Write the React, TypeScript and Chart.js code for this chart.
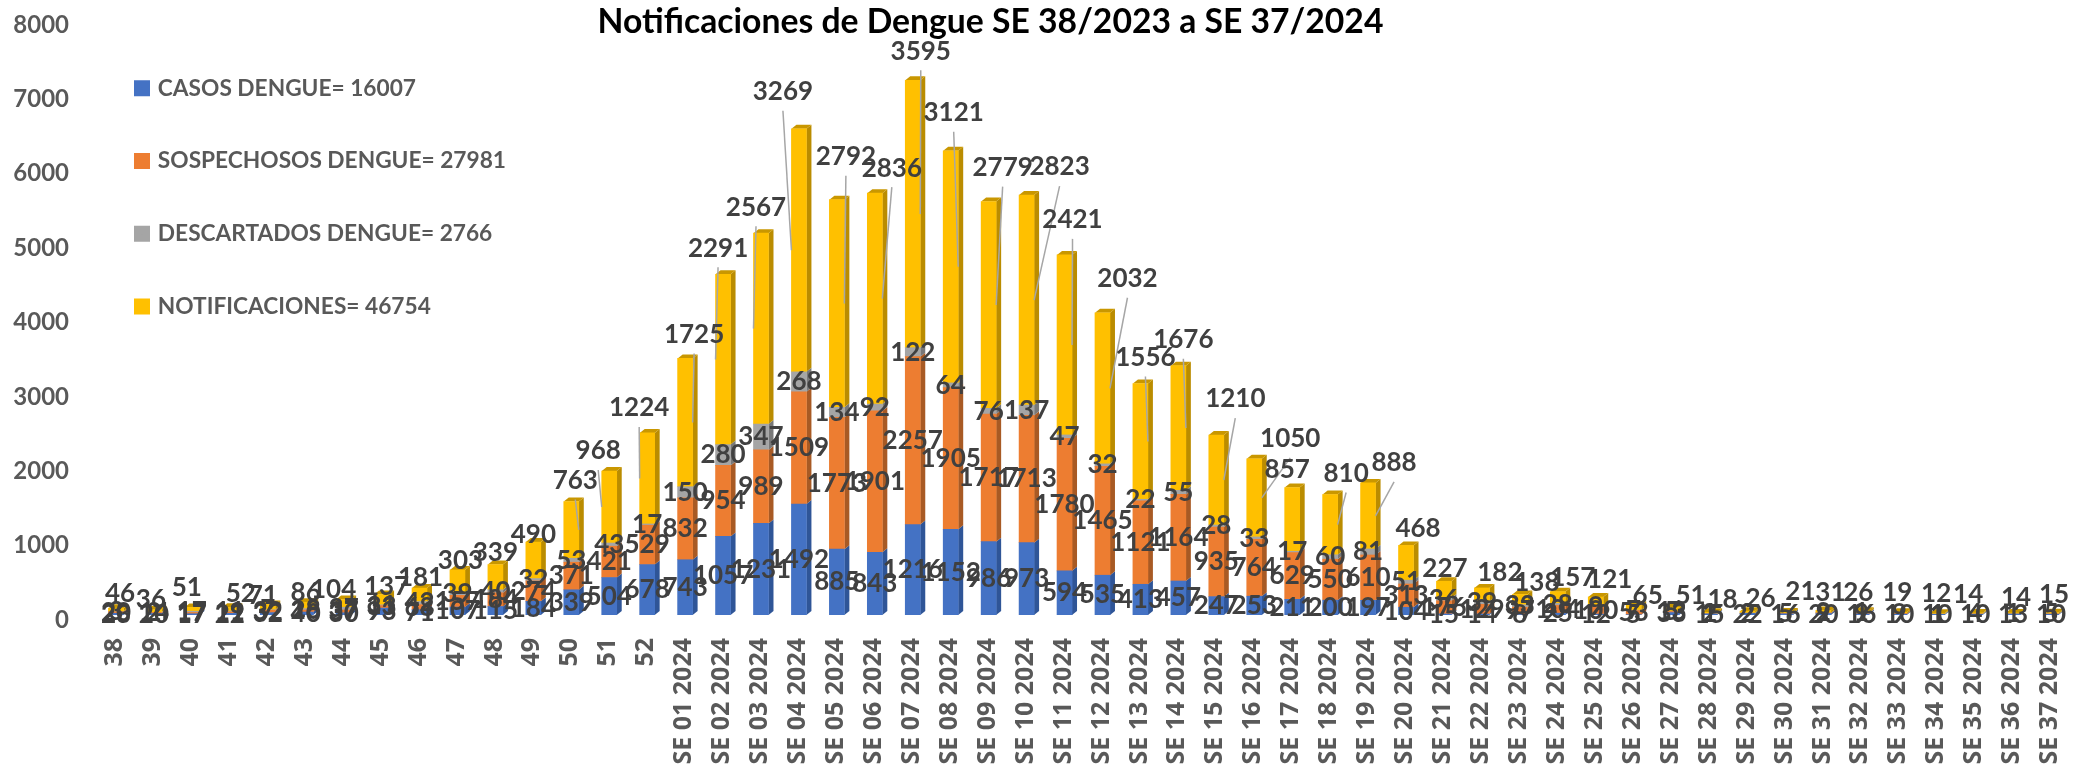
import React, { useEffect, useRef } from "react";
import { Chart, registerables } from "chart.js";

Chart.register(...registerables);

const weeks2023 = ["38","39","40","41","42","43","44","45","46","47","48","49","50","51","52"];
const weeks2024 = ["01","02","03","04","05","06","07","08","09","10","11","12","13","14","15","16","17","18","19","20","21","22","23","24","25","26","27","28","29","30","31","32","33","34","35","36","37"];
const categories = [...weeks2023, ...weeks2024.map((w) => `SE ${w} 2024`)];

const casos = [23,20,17,22,32,40,30,93,71,107,115,184,339,504,678,743,1057,1231,1492,885,843,1216,1152,986,973,594,535,413,457,247,253,211,200,197,104,15,14,8,25,12,5,33,15,22,16,20,16,10,10,10,13,10];
const sospechosos = [20,14,17,19,32,28,37,33,68,157,184,274,371,421,529,832,954,989,1509,1773,1901,2257,1905,1717,1713,1780,1465,1121,1164,935,764,629,550,610,313,176,129,97,104,100,53,13,1,2,5,9,9,9,1,4,1,5];
const descartados = [3,2,17,11,7,18,37,11,42,39,40,32,53,43,17,150,280,347,268,134,92,122,64,76,137,47,32,22,55,28,33,17,60,81,51,36,39,33,28,9,7,5,2,2,0,2,1,0,1,0,0,0];
const notificaciones = [46,36,51,52,71,86,104,137,181,303,339,490,763,968,1224,1725,2291,2567,3269,2792,2836,3595,3121,2779,2823,2421,2032,1556,1676,1210,1050,857,810,888,468,227,182,138,157,121,65,51,18,26,21,31,26,19,12,14,14,15];

const seriesLabels = ["CASOS DENGUE= 16007","SOSPECHOSOS DENGUE= 27981","DESCARTADOS DENGUE= 2766","NOTIFICACIONES= 46754"];
const yTicks = [0,1000,2000,3000,4000,5000,6000,7000,8000];

// Layout table: where each NOTIFICACIONES label sits relative to the top of its bar.
const notifLabelShift: [number, number][] = [
  [4,-15],[-3,-10],[-5,-20],[11,-14],[-5,-9],[0,-10],[-10,-10],[5,-8],[1,-10],[3,-9],[0,-12],[0,-8],[4,-21],[-11,-20],[-8,-25],
  [9,-24],[-5,-26],[-5,-26],[-16,-37],[9,-43],[17,-25],[8,-29],[3,-38],[14,-34],[33,-28],[8,-35],[25,-34],[5,-26],[5,-26],[19,-36],[36,-20],[-5,-18],[16,-21],[26,-20],[12,-17],[1,-13],[18,-15],[17,-12],[15,-14],[14,-17],[14,-10],[19,-12],[13,-13],[13,-13],[15,-20],[7,-18],[-3,-19],[-2,-20],[-1,-20],[-7,-18],[3,-15],[3,-18],
];
const firstLeader = 12;
const lastLeader = 33;
const noLeader = [31];

const fronts = ["#4472C4", "#ED7D31", "#A5A5A5", "#FFC000"];
const sides = ["#2F5597", "#A85A24", "#787878", "#BA8C00"];
const caps = ["#3A62AB", "#C96A28", "#8C8C8C", "#C99700"];

const DEPTH_X = 5;
const DEPTH_Y = 4;

const faces3d = {
  id: "faces3d",
  beforeDatasetsDraw(chart: any) {
    const ctx = chart.ctx;
    ctx.save();
    chart.data.datasets.forEach((_: any, d: number) => {
      chart.getDatasetMeta(d).data.forEach((el: any) => {
        const { x, y, base, width } = el.getProps(["x", "y", "base", "width"], true);
        const r = x + width / 2;
        const l = x - width / 2;
        ctx.fillStyle = sides[d];
        ctx.beginPath();
        ctx.moveTo(r, y);
        ctx.lineTo(r + DEPTH_X, y - DEPTH_Y);
        ctx.lineTo(r + DEPTH_X, base - DEPTH_Y);
        ctx.lineTo(r, base);
        ctx.closePath();
        ctx.fill();
        if (d === chart.data.datasets.length - 1) {
          ctx.fillStyle = caps[d];
          ctx.beginPath();
          ctx.moveTo(l, y);
          ctx.lineTo(l + DEPTH_X, y - DEPTH_Y);
          ctx.lineTo(r + DEPTH_X, y - DEPTH_Y);
          ctx.lineTo(r, y);
          ctx.closePath();
          ctx.fill();
        }
      });
    });
    ctx.restore();
  },
};

const barLabels = {
  id: "barLabels",
  afterDatasetsDraw(chart: any) {
    const ctx = chart.ctx;
    ctx.save();
    const last = chart.data.datasets.length - 1;
    // leader lines first
    ctx.strokeStyle = "#A6A6A6";
    ctx.lineWidth = 1.5;
    chart.getDatasetMeta(last).data.forEach((el: any, i: number) => {
      if (i < firstLeader || i > lastLeader || noLeader.includes(i)) return;
      const { x, y, base, width } = el.getProps(["x", "y", "base", "width"], true);
      const [dx, dy] = notifLabelShift[i];
      ctx.beginPath();
      ctx.moveTo(x + dx, y + dy + 19);
      ctx.lineTo(x + Math.sign(dx) * width / 2, (y + base) / 2);
      ctx.stroke();
    });
    ctx.font = "bold 26px Lato";
    ctx.fillStyle = "#404040";
    ctx.textAlign = "center";
    ctx.textBaseline = "middle";
    chart.data.datasets.forEach((ds: any, d: number) => {
      chart.getDatasetMeta(d).data.forEach((el: any, i: number) => {
        const { x, y, base } = el.getProps(["x", "y", "base"], true);
        const value = ds.data[i];
        if (d === last) {
          const [dx, dy] = notifLabelShift[i];
          ctx.fillText(String(value), x + dx, y + dy);
        } else if (value > 0) {
          ctx.fillText(String(value), x, (y + base) / 2);
        }
      });
    });
    ctx.restore();
  },
};

const placeBlocks = {
  id: "placeBlocks",
  afterLayout(chart: any) {
    const t = chart.titleBlock;
    const h = t.bottom - t.top;
    t.top = 22 - h / 2;
    t.bottom = t.top + h;
    t.left = 0;
    t.right = 1981;
    const lg = chart.legend;
    lg.left -= 9.5;
    lg.right -= 9.5;
    lg.top += 27;
    lg.bottom += 27;
  },
};

export default function App() {
  const ref = useRef<HTMLCanvasElement>(null);
  useEffect(() => {
    document.body.style.margin = "0";
    const values = [casos, sospechosos, descartados, notificaciones];
    const chart = new Chart(ref.current!, {
      type: "bar",
      data: {
        labels: categories,
        datasets: values.map((data, d) => ({
          label: seriesLabels[d],
          data,
          backgroundColor: fronts[d],
          borderWidth: 0,
          barThickness: 15,
        })),
      },
      plugins: [faces3d, barLabels, placeBlocks],
      options: {
        responsive: false,
        animation: false,
        layout: { padding: { top: 0, right: 23, left: 0, bottom: 0 } },
        scales: {
          x: {
            stacked: true,
            grid: { display: false, drawTicks: false },
            border: { display: false },
            afterFit(s: any) {
              s.height = 149;
              s.paddingLeft = 0;
              s.paddingRight = 0;
            },
            ticks: {
              autoSkip: false,
              minRotation: 90,
              maxRotation: 90,
              padding: 23,
              labelOffset: -1,
              color: "#595959",
              font: { family: "'Open Sans'", size: 25, weight: "bold" },
            },
          },
          y: {
            stacked: true,
            min: 0,
            max: 8000,
            grid: { display: false, drawTicks: false },
            border: { display: false },
            afterFit(s: any) {
              s.width = 97;
              s.paddingTop = 0;
              s.paddingBottom = 0;
            },
            afterBuildTicks(s: any) { s.ticks = yTicks.map((value) => ({ value })); },
            ticks: {
              padding: 28,
              labelOffset: 5,
              color: "#595959",
              callback: (v: any) => String(v),
              font: { family: "Lato", size: 24, weight: "bold" },
            },
          },
        },
        plugins: {
          tooltip: { enabled: false },
          title: {
            display: true,
            text: "Notificaciones de Dengue SE 38/2023 a SE 37/2024",
            color: "#000000",
            padding: 0,
            font: { family: "Lato", size: 33.7, weight: "bold", lineHeight: 0.5935 },
          },
          legend: {
            position: "chartArea",
            align: "start",
            labels: {
              boxWidth: 9,
              boxHeight: 9,
              padding: 50,
              color: "#595959",
              font: { family: "Lato", size: 22.7, weight: "bold" },
              generateLabels(chart: any) {
                return Chart.defaults.plugins.legend.labels.generateLabels(chart).map((item: any) => ({
                  ...item,
                  lineWidth: 7,
                  strokeStyle: item.fillStyle,
                }));
              },
            },
          },
        },
      } as any,
    });
    return () => chart.destroy();
  }, []);
  return <canvas ref={ref} width={2093} height={764} style={{ display: "block" }} />;
}
